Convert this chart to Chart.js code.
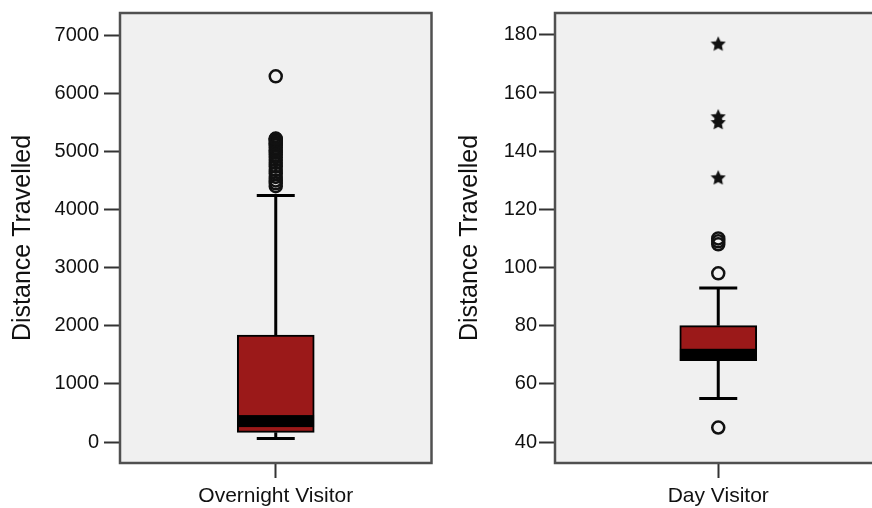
<!DOCTYPE html>
<html>
<head>
<meta charset="utf-8">
<script src="https://cdn.jsdelivr.net/npm/chart.js@4.4.1/dist/chart.umd.min.js"></script>
<style>
  html, body { margin: 0; padding: 0; background: #fff; width: 872px; height: 508px; overflow: hidden; position: relative; }
  canvas { position: absolute; top: 0; }
  #overnight { left: 0; }
  #day { left: 445px; }
</style>
</head>
<body>
<canvas id="overnight" width="440" height="508"></canvas>
<canvas id="day" width="445" height="508"></canvas>
<script>
// Group names
const overnightCategory = ['Overnight Visitor'];
const dayCategory = ['Day Visitor'];

// Five-number summaries: [lower whisker, Q1, median, Q3, upper whisker]
const overnightSummary = [60, 166, 360, 1840, 4240];
const daySummary = [55, 68, 70, 80, 93];

// Outliers (circles) and extreme values (stars)
const overnightOutliers = [4400, 4450, 4500, 4560, 4620, 4680, 4740, 4800, 4850, 4900, 4940, 4980,
                           5020, 5060, 5100, 5130, 5160, 5190, 5210, 5220, 6290];
const overnightExtremes = [];
const dayOutliers = [45, 98, 108, 109, 110];
const dayExtremes = [131, 150, 152, 177];

// Axis tick values
const overnightTicks = [0, 1000, 2000, 3000, 4000, 5000, 6000, 7000];
const dayTicks = [40, 60, 80, 100, 120, 140, 160, 180];

const FONT = "'Liberation Sans', Arial, sans-serif";
const BOX_FILL = '#9b1919';
const PANEL_BG = '#f0f0f0';

// Filled five-point star used for extreme values
function makeStar(size) {
  const c = document.createElement('canvas');
  c.width = c.height = size;
  const g = c.getContext('2d');
  const R = size / 2, r = R * 0.48, cx = size / 2, cy = size / 2 + 0.8;
  g.fillStyle = '#111';
  g.beginPath();
  for (let i = 0; i < 10; i++) {
    const a = -Math.PI / 2 + i * Math.PI / 5;
    const rad = i % 2 ? r : R;
    g.lineTo(cx + rad * Math.cos(a), cy + rad * Math.sin(a));
  }
  g.closePath();
  g.fill();
  return c;
}
const starImage = makeStar(16);

// Panel background, whiskers, caps, median band and frame
const boxPlotPlugin = {
  id: 'boxPlot',
  beforeDatasetsDraw(chart) {
    const { ctx, chartArea: a } = chart;
    ctx.save();
    ctx.fillStyle = PANEL_BG;
    ctx.fillRect(a.left, a.top, a.right - a.left, a.bottom - a.top);
    ctx.restore();
  },
  afterDatasetsDraw(chart, args, opts) {
    const { ctx } = chart;
    const s = opts.summary;
    const ys = chart.scales.y;
    const bar = chart.getDatasetMeta(0).data[0];
    const cx = bar.x;
    const half = bar.width / 2;
    const p = v => ys.getPixelForValue(v);
    ctx.save();
    ctx.strokeStyle = '#000';
    ctx.lineWidth = 3;
    ctx.lineCap = 'butt';
    const line = (x1, y1, x2, y2) => { ctx.beginPath(); ctx.moveTo(x1, y1); ctx.lineTo(x2, y2); ctx.stroke(); };
    line(cx, p(s[3]), cx, p(s[4]));
    line(cx, p(s[1]), cx, p(s[0]));
    line(cx - 19, p(s[4]), cx + 19, p(s[4]));
    line(cx - 19, p(s[0]), cx + 19, p(s[0]));
    // thick median band, kept inside the box
    ctx.beginPath();
    ctx.rect(cx - half, p(s[3]), half * 2, p(s[1]) - p(s[3]));
    ctx.clip();
    ctx.fillStyle = '#000';
    ctx.fillRect(cx - half, p(s[2]) - 6, half * 2, 12);
    ctx.restore();
  },
  afterDraw(chart) {
    const { ctx, chartArea: a } = chart;
    ctx.save();
    ctx.strokeStyle = '#505050';
    ctx.lineWidth = 2.5;
    ctx.strokeRect(a.left, a.top, a.right - a.left, a.bottom - a.top);
    ctx.restore();
  }
};

function boxChart(canvasId, category, summary, outliers, extremes, ticks, yMin, yMax, axisWidth, rightPad, tickPad, titlePad) {
  const label = category[0];
  return new Chart(document.getElementById(canvasId), {
    type: 'bar',
    data: {
      labels: category,
      datasets: [
        {
          data: [[summary[1], summary[3]]],
          backgroundColor: BOX_FILL,
          borderColor: '#000',
          borderWidth: 2,
          borderSkipped: false,
          barThickness: 77
        },
        {
          type: 'line',
          showLine: false,
          data: outliers.map(v => ({ x: label, y: v })),
          pointStyle: 'circle',
          pointRadius: 6,
          pointBorderWidth: 2.5,
          pointBorderColor: '#111',
          pointBackgroundColor: 'rgba(0,0,0,0)'
        },
        {
          type: 'line',
          showLine: false,
          data: extremes.map(v => ({ x: label, y: v })),
          pointStyle: starImage
        }
      ]
    },
    options: {
      responsive: false,
      animation: false,
      events: [],
      layout: { padding: { top: 13, right: rightPad, bottom: 0, left: 0 } },
      plugins: {
        legend: { display: false },
        tooltip: { enabled: false },
        boxPlot: { summary }
      },
      scales: {
        x: {
          type: 'category',
          offset: true,
          border: { display: false },
          grid: { offset: false, drawOnChartArea: false, drawTicks: true, tickLength: 15, tickWidth: 2, tickColor: '#333' },
          ticks: { color: '#111', font: { family: FONT, size: 21 }, padding: 6, maxRotation: 0 },
          afterFit(scale) { scale.height = 45; }
        },
        y: {
          type: 'linear',
          min: yMin,
          max: yMax,
          border: { display: false },
          grid: { drawOnChartArea: false, drawTicks: true, tickLength: 16, tickWidth: 2, tickColor: '#333' },
          ticks: {
            color: '#111',
            font: { family: FONT, size: 20 },
            padding: tickPad,
            callback: v => String(v)
          },
          afterBuildTicks(scale) { scale.ticks = ticks.map(v => ({ value: v })); },
          afterFit(scale) {
            scale.width = axisWidth;
            scale.paddingTop = 0;
            scale.paddingBottom = 0;
          },
          title: {
            display: true,
            text: 'Distance Travelled',
            color: '#111',
            font: { family: FONT, size: 25 },
            padding: { top: titlePad, bottom: 0 }
          }
        }
      }
    },
    plugins: [boxPlotPlugin]
  });
}

boxChart('overnight', overnightCategory, overnightSummary, overnightOutliers, overnightExtremes,
         overnightTicks, -361, 7379, 120, 8, 5, 8);
boxChart('day', dayCategory, daySummary, dayOutliers, dayExtremes,
         dayTicks, 32.8, 187.5, 110, 7, 2, 10);
</script>
</body>
</html>
